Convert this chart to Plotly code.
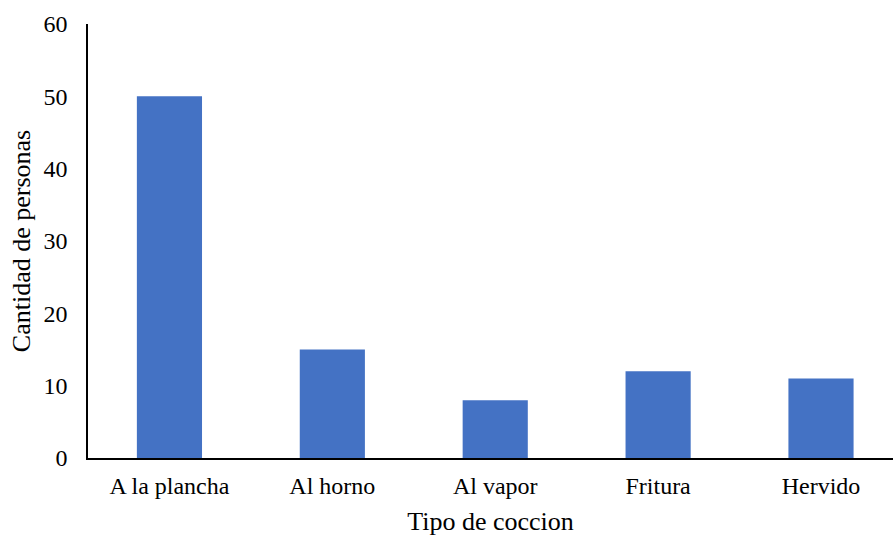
import plotly.graph_objects as go

categories = ["A la plancha", "Al horno", "Al vapor", "Fritura", "Hervido"]
personas = [50, 15, 8, 12, 11]

fig = go.Figure(
    go.Bar(
        x=categories,
        y=personas,
        marker=dict(color="#4472C4", line=dict(width=0)),
    )
)

font_family = "Liberation Serif, Times New Roman, serif"

fig.update_layout(
    width=893,
    height=537,
    margin=dict(l=88, r=0, t=24, b=79),
    paper_bgcolor="white",
    plot_bgcolor="white",
    bargap=0.6,
    showlegend=False,
    font=dict(family=font_family, size=24, color="#000000"),
)

fig.update_xaxes(
    range=[-0.5, 4.442],
    showline=True,
    linecolor="#000000",
    linewidth=1.5,
    ticks="",
    showgrid=False,
    tickfont=dict(size=24),
    ticklabelstandoff=5,
    title=dict(text="Tipo de coccion", font=dict(size=26), standoff=14),
)

fig.update_yaxes(
    range=[0, 60],
    dtick=10,
    showline=True,
    linecolor="#000000",
    linewidth=1.5,
    ticks="",
    showgrid=False,
    zeroline=False,
    tickfont=dict(size=24),
    ticklabelstandoff=14,
    title=dict(text="Cantidad de personas", font=dict(size=26), standoff=5),
)

fig.write_html("out.html")
